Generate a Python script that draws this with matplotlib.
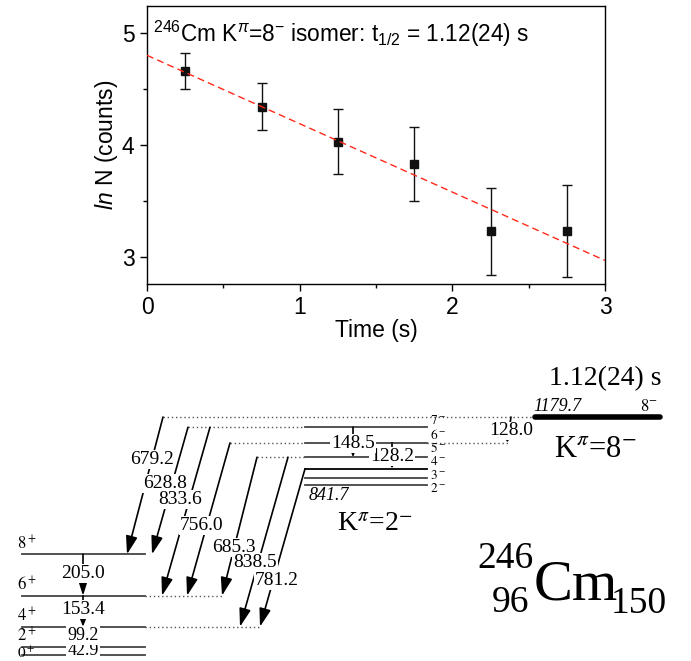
import numpy as np
import matplotlib.pyplot as plt

plt.rcParams['font.family'] = ['Liberation Sans', 'DejaVu Sans']
plt.rcParams['mathtext.fontset'] = 'custom'
plt.rcParams['mathtext.rm'] = 'Liberation Sans'
plt.rcParams['mathtext.it'] = 'Liberation Sans:italic'

# decay curve------------------------------------------------------------------#
t = [0.25, 0.75, 1.25, 1.75, 2.25, 2.75]
lnN = [4.66, 4.34, 4.03, 3.83, 3.23, 3.23]
lnN_err = [0.16, 0.21, 0.29, 0.33, 0.39, 0.41]
fit_t = [0.0, 3.0]
fit_lnN = [4.80, 2.97]

# level scheme (keV)-----------------------------------------------------------#
gsb_spin = ['0^+', '2^+', '4^+', '6^+', '8^+']
gsb_E = [0.0, 42.9, 142.1, 295.5, 500.5]
gsb_gamma = ['42.9', '99.2', '153.4', '205.0']

k2_spin = ['2^-', '3^-', '4^-', '5^-', '6^-', '7^-']
k2_E = [841.7, 876.0, 923.5, 980.8, 1051.7, 1129.3]
k2_gamma = ['128.2', '148.5']        # 6- -> 4-, 7- -> 5-
k2_gamma_from = [1051.7, 1129.3]
k2_gamma_to = [923.5, 980.8]

iso_E = 1179.7
iso_halflife = '1.12(24) s'
iso_gamma = '128.0'                  # 8- -> 6-
iso_gamma_to = 1051.7

ib_label = ['679.2', '628.8', '833.6', '756.0', '685.3', '838.5', '781.2']
ib_from = [1179.7, 1129.3, 1129.3, 1051.7, 980.8, 980.8, 923.5]
ib_to = [500.5, 500.5, 295.5, 295.5, 295.5, 142.1, 142.1]

# layout (x in pixels)---------------------------------------------------------#
ib_x0 = [163, 188, 210, 230, 257, 288, 305]
ib_x1 = [127, 152, 162, 187, 222, 240, 260]
ib_lab_t = [0.31, 0.44, 0.43, 0.54, 0.65, 0.62, 0.71]
ib_lab_dx = [0, -7, -9, -5, 0, -3, 4]
k2_lab_dy = [-3.6, 2.8, 6.9, 8.8, 8, 6.3]   # px shifts of the spin labels
gsb_x = (22, 145)
k2_x = (305, 427)
iso_x = (535, 660)
px = 1 / 0.202                       # keV per pixel

fig = plt.figure(figsize=(6.91, 6.61), dpi=100)

# top panel--------------------------------------------------------------------#
ax = fig.add_axes([147/691, 1 - 284/661, 458/691, 278/661])
ax.plot(fit_t, fit_lnN, color='#ff2a1a', lw=1.0, dashes=(5, 3), zorder=3)
ax.errorbar(t, lnN, yerr=lnN_err, fmt='s', color='#111111', ms=5.5,
            capsize=3.5, elinewidth=1.0, capthick=1.0, zorder=2)
ax.set_xlim(0, 3)
ax.set_ylim(2.76, 5.24)
ax.set_xticks([0, 1, 2, 3])
ax.set_xticks([0.5, 1.5, 2.5], minor=True)
ax.set_yticks([3, 4, 5])
ax.set_yticks([3.5, 4.5], minor=True)
ax.tick_params(which='both', direction='out', labelsize=16.5, width=1.0)
ax.tick_params(which='major', length=5, pad=4)
ax.tick_params(which='minor', length=3)
for s in ax.spines.values():
    s.set_linewidth(1.0)
ax.set_xlabel('Time (s)', fontsize=16.5, labelpad=0)
ax.set_ylabel(r'$\mathit{ln}$ N (counts)', fontsize=16.5, labelpad=1)
ax.text(0.013, 0.955, r'$^{246}$Cm K$^{\pi}$=8$^{-}$ isomer: t$_{1/2}$ = 1.12(24) s',
        transform=ax.transAxes, ha='left', va='top', fontsize=16.3)

# level scheme-----------------------------------------------------------------#
ax2 = fig.add_axes([0, 0, 1, 321/661])
ax2.set_xlim(0, 691)
ax2.set_ylim(-27.7, 1561)
ax2.axis('off')

serif = ['Liberation Serif', 'DejaVu Serif']
lvl = dict(color='#444444', lw=1.3, zorder=1)
dots = dict(color='#555555', lw=1.0, ls=(0, (1, 2)), zorder=1)
lab = dict(family=serif, fontsize=14, ha='center', va='center', zorder=6,
           bbox=dict(boxstyle='square,pad=0.05', fc='white', ec='none'))


def gamma(x0, e0, x1, e1, big=True):
    if big:
        style = '-|>,head_length=1.1,head_width=0.35'
    else:
        style = '-|>,head_length=0.55,head_width=0.22'
    ax2.annotate('', xy=(x1, e1), xytext=(x0, e0),
                 arrowprops=dict(arrowstyle=style, color='k', lw=1.2,
                                 shrinkA=0, shrinkB=0, mutation_scale=10),
                 zorder=3)


# ground band
for spin, e in zip(gsb_spin, gsb_E):
    ax2.plot(gsb_x, [e, e], **lvl)
    if e == 0:
        ax2.text(gsb_x[0] - 5, e + 2*px, f'${spin}$', family=serif, fontsize=11,
                 ha='left', va='center', math_fontfamily='stix')
    else:
        ax2.text(gsb_x[0] - 5, e + 1.0*px, f'${spin}$', family=serif, fontsize=12,
                 ha='left', va='bottom', math_fontfamily='stix')
for i, g in enumerate(gsb_gamma):
    big = i == 3
    gamma(83, gsb_E[i + 1], 83, gsb_E[i], big=big)
    dy = [0.5, 1.5, 1.5, 1.5][i]*px
    ax2.text(83, 0.5*(gsb_E[i] + gsb_E[i + 1]) + dy, g,
             **{**lab, 'fontsize': 13 if i < 2 else 14})

# dotted extensions of the ground band to the arrow tips
for e in gsb_E:
    tips = [x1 for x1, et in zip(ib_x1, ib_to) if et == e]
    if tips and max(tips) > gsb_x[1] + 10:
        ax2.plot([gsb_x[1], max(tips)], [e, e], **dots)

# K=2- band
for i, (spin, e) in enumerate(zip(k2_spin, k2_E)):
    col = 'k' if spin == '4^-' else '#444444'
    ax2.plot(k2_x, [e, e], color=col, lw=1.3, zorder=1)
    ax2.text(k2_x[1] + 3, e + k2_lab_dy[i]*px, f'${spin}$', family=serif,
             fontsize=9.5, ha='left', va='center', math_fontfamily='stix')
    starts = [x0 for x0, ef in zip(ib_x0, ib_from) if ef == e and x0 < k2_x[0]]
    if starts:
        ax2.plot([min(starts), k2_x[0]], [e, e], **dots)
ax2.text(k2_x[0] + 4, k2_E[0] - 1.5*px, f'{k2_E[0]:.1f}', family=serif,
         fontsize=13, style='italic', ha='left', va='top')
for g, e0, e1, x in zip(k2_gamma, k2_gamma_from, k2_gamma_to, [392, 353]):
    gamma(x, e0, x, e1, big=False)
    ax2.text(x, 0.5*(e0 + e1) - 1*px, g, **lab)

# K=8- isomer
ax2.plot(iso_x, [iso_E, iso_E], color='k', lw=4, solid_capstyle='round', zorder=2)
ax2.plot([min(ib_x0), iso_x[0]], [iso_E, iso_E], **dots)
ax2.plot([k2_x[1], 510], [iso_gamma_to, iso_gamma_to], **dots)
gamma(511, iso_E, 507, iso_gamma_to, big=False)
ax2.text(511, 0.5*(iso_E + iso_gamma_to) - 1*px, iso_gamma, **lab)
ax2.text(iso_x[0] - 2, iso_E + 2*px, f'{iso_E:.1f}', family=serif, fontsize=13,
         style='italic', ha='left', va='bottom')
ax2.text(iso_x[1] - 2, iso_E + 2*px, '$8^{-}$', family=serif, fontsize=12,
         ha='right', va='bottom', math_fontfamily='stix')
ax2.text(iso_x[1] + 2, iso_E + 38*px, iso_halflife, family=serif, fontsize=20,
         ha='right', va='center')
ax2.text(595, iso_E - 32*px, r'K$^{\pi}$=8$^{-}$', family=serif, fontsize=22,
         ha='center', va='center', math_fontfamily='stix')
ax2.text(375, k2_E[0] - 40*px, r'K$^{\pi}$=2$^{-}$', family=serif, fontsize=20,
         ha='center', va='center', math_fontfamily='stix')

# interband transitions
for s, ef, et, x0, x1, tl, dx in zip(ib_label, ib_from, ib_to, ib_x0, ib_x1,
                                     ib_lab_t, ib_lab_dx):
    gamma(x0, ef, x1, et)
    ax2.text(x0 + tl*(x1 - x0) + dx, ef + tl*(et - ef), s, **lab)

# nucleus label
ax2.text(576, 275, 'Cm', family=serif, fontsize=42, ha='center', va='baseline')
ax2.text(534, 478, '246', family=serif, fontsize=27, ha='right', va='center')
ax2.text(529, 262, '96', family=serif, fontsize=27, ha='right', va='center')
ax2.text(611, 255, '150', family=serif, fontsize=27, ha='left', va='center')

fig.savefig('out.png', dpi=100)
